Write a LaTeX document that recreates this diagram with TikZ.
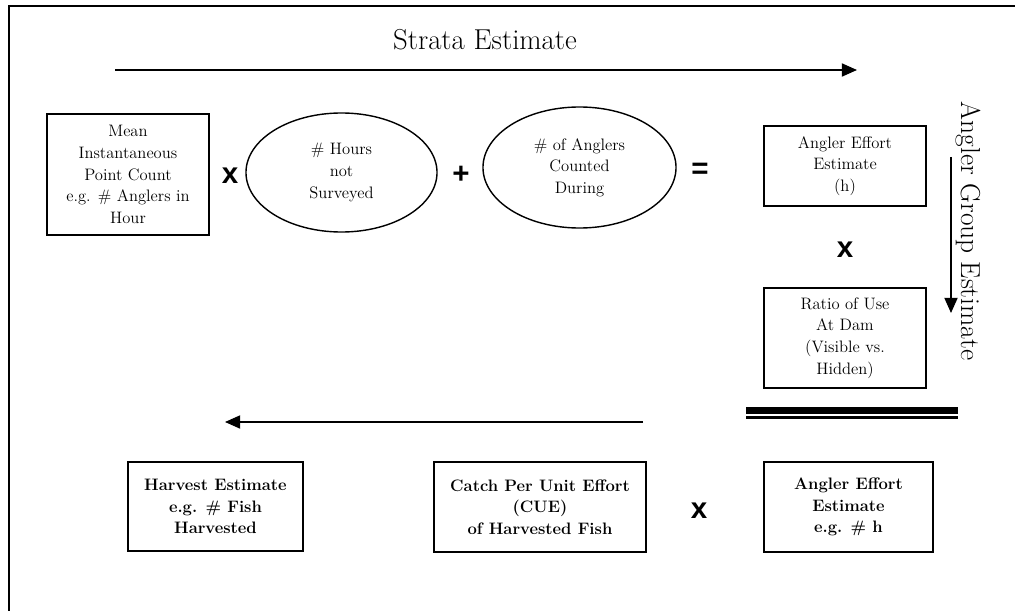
\documentclass[tikz,border=0pt]{standalone}
\usepackage{fontspec}
\newfontfamily\opfont{Liberation Sans}
\usetikzlibrary{shapes.geometric,arrows.meta}

\begin{document}
\begin{tikzpicture}[x=0.025cm, y=-0.025cm,
    box/.style={draw, line width=1.5pt, align=center, inner sep=0pt, font=\fontsize{11.8}{15.4}\selectfont},
    oval/.style={draw, shape=ellipse, line width=1pt, align=center, inner sep=0pt, font=\fontsize{11.8}{15.4}\selectfont},
    bbox/.style={box, font=\fontsize{11.8}{15.4}\selectfont\bfseries},
    op/.style={font=\opfont\bfseries\fontsize{21}{21}\selectfont, inner sep=0pt},
    flow/.style={line width=1pt, -{Triangle[length=0.38cm,width=0.33cm]}},
    title/.style={font=\fontsize{20.5}{24}\selectfont, inner sep=0pt}]
    \useasboundingbox (0,0) rectangle (1015,611);

    % frame
    \draw[line width=1.8pt] (9,611) -- (9,6) -- (1015,6);

    % top row
    \node[title] (strata) at (485,40) {Strata Estimate};
    \coordinate (sA) at (115,70);
    \coordinate (sB) at (857,70);
    \draw[flow] (sA) -- (sB);

    \node[box, minimum width=4.05cm, minimum height=3.025cm] (mean) at (128,174.5)
        {Mean\\Instantaneous\\Point Count\\e.g. \# Anglers in\\Hour};
    \node[op] (times1) at (230,176) {x};
    \node[oval, minimum width=4.775cm, minimum height=2.975cm] (hours) at (341.5,172.5)
        {\# Hours\\not\\Surveyed};
    \node[op] (plus) at (461,175) {+};
    \node[oval, minimum width=4.825cm, minimum height=3.025cm] (counted) at (579.5,167.5)
        {\# of Anglers\\Counted\\During};
    \node[op] (equals) at (700,171) {=};
    \node[box, minimum width=4.05cm, minimum height=2cm] (effort) at (845,166)
        {Angler Effort\\Estimate\\(h)};

    % right column
    \node[op] (times2) at (845,250) {x};
    \node[box, minimum width=4.05cm, minimum height=2.5cm] (ratio) at (845,338)
        {Ratio of Use\\At Dam\\(Visible vs.\\Hidden)};
    \coordinate (gA) at (951,157);
    \coordinate (gB) at (951,313);
    \draw[flow] (gA) -- (gB);
    \node[title, rotate=-90, font=\fontsize{19.5}{24}\selectfont] (group) at (968,231) {Angler Group Estimate};

    % double bar
    \coordinate (bA) at (746,410.5);
    \coordinate (bB) at (958,410.5);
    \coordinate (cA) at (746,417.5);
    \coordinate (cB) at (958,417.5);
    \draw[line width=0.175cm] (bA) -- (bB);
    \draw[line width=1.6pt] (cA) -- (cB);

    % bottom row
    \coordinate (hA) at (643,422);
    \coordinate (hB) at (225,422);
    \draw[flow] (hA) -- (hB);

    \node[bbox, minimum width=4.375cm, minimum height=2.225cm] (harvest) at (215.5,506.5)
        {Harvest Estimate\\e.g. \# Fish\\Harvested};
    \node[bbox, minimum width=5.3cm, minimum height=2.25cm] (cue) at (540,507)
        {Catch Per Unit Effort\\(CUE)\\of Harvested Fish};
    \node[op] (times3) at (699,511) {x};
    \node[bbox, minimum width=4.225cm, minimum height=2.25cm] (effort2) at (848.5,507)
        {Angler Effort\\Estimate\\e.g. \# h};
\end{tikzpicture}
\end{document}
